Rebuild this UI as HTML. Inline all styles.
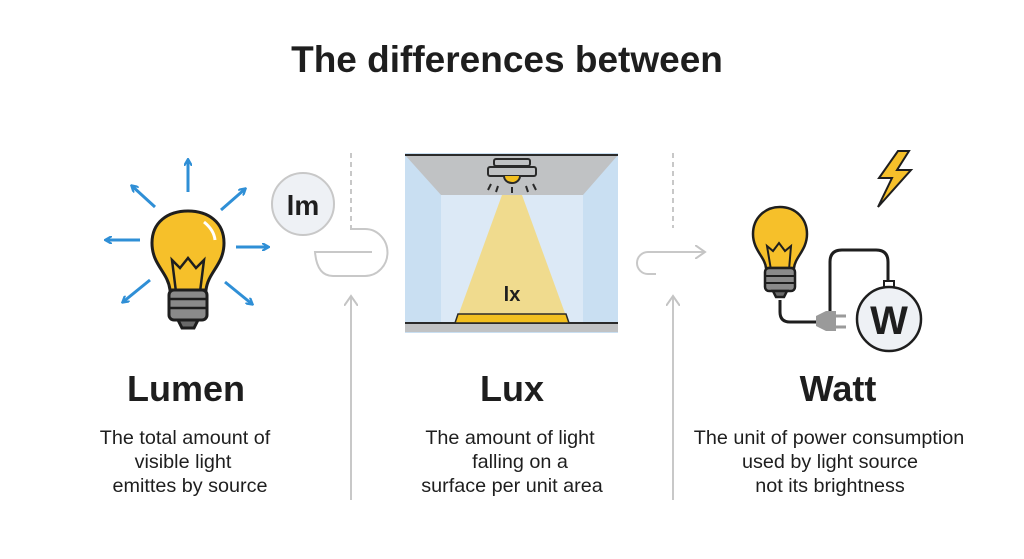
<!DOCTYPE html>
<html><head><meta charset="utf-8"><style>
html,body{margin:0;padding:0;background:#fff;width:1024px;height:559px;overflow:hidden}
svg{display:block}
text{font-family:"Liberation Sans","DejaVu Sans",sans-serif;fill:#1e1e1e}
</style></head><body>
<svg width="1024" height="559" viewBox="0 0 1024 559" xmlns="http://www.w3.org/2000/svg">
<defs>
<marker id="ab" markerWidth="8" markerHeight="8" refX="6" refY="4" orient="auto" markerUnits="userSpaceOnUse"><path d="M0,0 L7,4 L0,8" fill="none" stroke="#2f8fd6" stroke-width="2.2"/></marker>
<marker id="ag" markerWidth="14" markerHeight="14" refX="10" refY="7" orient="auto" markerUnits="userSpaceOnUse"><path d="M0,0 L10,7 L0,14" fill="none" stroke="#c4c4c4" stroke-width="2"/></marker>
</defs>
<text x="507" y="72" text-anchor="middle" font-size="37" font-weight="bold">The differences between</text>

<g stroke="#2f8fd6" stroke-width="3" fill="none" marker-end="url(#ab)">
<line x1="188" y1="192" x2="188" y2="160"/>
<line x1="155" y1="207" x2="132" y2="186"/>
<line x1="221" y1="210" x2="245" y2="189"/>
<line x1="140" y1="240" x2="106" y2="240"/>
<line x1="236" y1="247" x2="268" y2="247"/>
<line x1="150" y1="280" x2="123" y2="302"/>
<line x1="225" y1="282" x2="252" y2="304"/>
</g>
<g stroke="#1e1e1e" stroke-width="3">
<path d="M170,290 C168,272 152,265 152,243 C152,222 168,211 188,211 C208,211 224,222 224,243 C224,265 208,272 206,290 Z" fill="#f6c02a"/>
<path d="M176,292 L172,260 L180,268 L188,258 L196,268 L204,260 L200,292" fill="none" stroke-width="2.5"/>
<rect x="169" y="290" width="38" height="30" rx="5" fill="#8a8a8a"/>
<path d="M170,299 H206 M170,308 H206" stroke-width="2.5"/>
<path d="M178,320 H198 L194,328 H182 Z" fill="#6a6a6a"/>
</g>
<path d="M204,222 Q214,230 215,240" stroke="#fff" stroke-width="3" fill="none"/>
<circle cx="303" cy="204" r="31" fill="#eef1f5" stroke="#c8c8c8" stroke-width="2"/>
<text x="303" y="215" text-anchor="middle" font-size="28" font-weight="bold">lm</text>

<line x1="351" y1="153" x2="351" y2="226" stroke="#c8c8c8" stroke-width="2" stroke-dasharray="5,4"/>
<path d="M351,226 V229 H365 A22,23 0 0 1 365,276 H333 Q317,276 315,252 H372" fill="none" stroke="#c8c8c8" stroke-width="2"/>
<line x1="351" y1="500" x2="351" y2="296" stroke="#c8c8c8" stroke-width="2" marker-end="url(#ag)"/>

<rect x="405" y="153" width="213" height="180" fill="#c9dff2"/>
<rect x="441" y="195" width="142" height="128" fill="#dce9f6"/>
<path d="M405,155 H618 L583,195 H441 Z" fill="#c0c2c4"/>
<line x1="405" y1="155" x2="618" y2="155" stroke="#2a2a2a" stroke-width="2"/>
<rect x="405" y="323" width="213" height="9" fill="#c0c2c4"/>
<line x1="405" y1="323" x2="618" y2="323" stroke="#2a2a2a" stroke-width="2"/>
<path d="M502,195 H522 L566,316 H458 Z" fill="#f0db8e"/>
<path d="M458,314 H566 L569,323 H455 Z" fill="#f2bf1f" stroke="#2a2a2a" stroke-width="1.5"/>
<g stroke="#2a2a2a" stroke-width="2">
<rect x="494" y="159" width="36" height="7" rx="2" fill="#c0c2c4"/>
<rect x="488" y="167" width="48" height="9" rx="2" fill="#c0c2c4"/>
<path d="M504,176 A8,7 0 0 0 520,176" fill="#f2bf1f"/>
<path d="M488,190 l3,-6 M496,192 l2,-6 M528,192 l-2,-6 M536,190 l-3,-6 M512,193 v-6"/>
</g>
<text x="512" y="301" text-anchor="middle" font-size="20" font-weight="bold">lx</text>

<line x1="673" y1="153" x2="673" y2="228" stroke="#c8c8c8" stroke-width="2" stroke-dasharray="5,4"/>
<path d="M656,274 H648 A11,11 0 0 1 648,252 H705" fill="none" stroke="#c8c8c8" stroke-width="2" marker-end="url(#ag)"/>
<line x1="673" y1="500" x2="673" y2="296" stroke="#c8c8c8" stroke-width="2" marker-end="url(#ag)"/>

<path d="M898,151 L879,178 H892 L878,207 L911,170 H897 L909,151 Z" fill="#f6c02a" stroke="#1e1e1e" stroke-width="2"/>
<path d="M780,300 V312 Q780,322 790,322 H818" fill="none" stroke="#1e1e1e" stroke-width="3"/>
<path d="M830,316 V262 Q830,250 842,250 H876 Q888,250 888,262 V285" fill="none" stroke="#1e1e1e" stroke-width="3"/>
<path d="M816,316 L826,311 H836 V331 H826 L816,326 Z" fill="#9a9a9a"/>
<path d="M836,316 H846 M836,327 H846" stroke="#9a9a9a" stroke-width="3"/>
<rect x="884" y="281" width="10" height="6" fill="#fff" stroke="#1e1e1e" stroke-width="2"/>
<circle cx="889" cy="319" r="32" fill="#eef1f5" stroke="#1e1e1e" stroke-width="2.5"/>
<text x="889" y="334" text-anchor="middle" font-size="40" font-weight="bold">W</text>
<g stroke="#1e1e1e" stroke-width="2.5">
<path d="M766,268 C765,257 753,250 753,234 C753,218 765,207 780,207 C795,207 807,218 807,234 C807,250 795,257 794,268 Z" fill="#f6c02a"/>
<path d="M771,270 L767,246 L773,251 L779,243 L785,251 L791,246 L789,270" fill="none" stroke-width="2"/>
<rect x="765" y="268" width="30" height="23" rx="4" fill="#8a8a8a"/>
<path d="M766,276 H794 M766,283 H794" stroke-width="2"/>
<path d="M773,291 H787 L784,297 H776 Z" fill="#6a6a6a"/>
</g>

<text x="186" y="401" text-anchor="middle" font-size="36" font-weight="bold">Lumen</text>
<text x="512" y="401" text-anchor="middle" font-size="36" font-weight="bold">Lux</text>
<text x="838" y="401" text-anchor="middle" font-size="36" font-weight="bold">Watt</text>
<g font-size="19.8" text-anchor="middle">
<text x="185" y="444">The total amount of</text>
<text x="183" y="468">visible light</text>
<text x="190" y="492">emittes by source</text>
<text x="510" y="444">The amount of light</text>
<text x="520" y="468">falling on a</text>
<text x="512" y="492">surface per unit area</text>
<text x="829" y="444">The unit of power consumption</text>
<text x="830" y="468">used by light source</text>
<text x="830" y="492">not its brightness</text>
</g>
</svg>
</body></html>
